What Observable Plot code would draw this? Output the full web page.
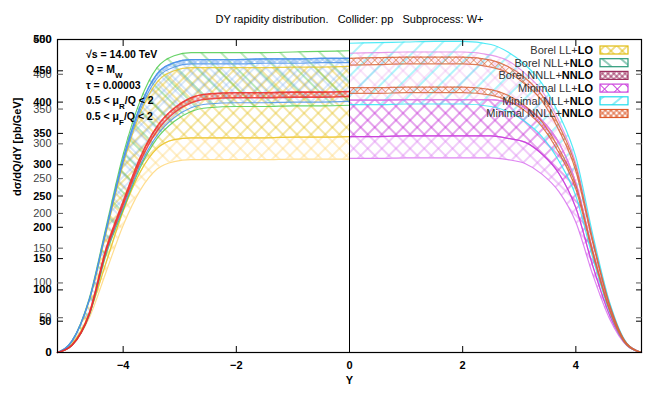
<!DOCTYPE html>
<html><head><meta charset="utf-8">
<script src="https://cdn.jsdelivr.net/npm/d3@7"></script>
<script src="https://cdn.jsdelivr.net/npm/@observablehq/plot@0.6"></script>
<style>
body{margin:0;background:#fff;}
#chart{width:656px;height:394px;}
svg{font-family:"Liberation Sans",Arial,Helvetica,sans-serif;}
</style></head><body><div id="chart"></div>
<script>
// ---- data ----
const xTicks = [-4, -2, 0, 2, 4];
const yTicksMain = [0, 50, 100, 150, 200, 250, 300, 350, 400, 450, 500];
const yTicksAlt = [0, 50, 100, 150, 200, 250, 300, 350, 400, 450];

// Borel (Y < 0)
const yLeft    = [-5.16, -4.9, -4.6, -4.3, -4.0, -3.7, -3.4, -3.1, -2.8, -2.5, -2.0, -1.5, -1.0, -0.5, 0];
const greenTop = [0, 19, 86, 201, 316, 402, 455, 474, 479, 479, 479, 479, 480, 481, 482];
const greenBot = [0, 12, 59, 157, 228, 295, 342, 369, 385, 391, 393, 393, 394, 394, 395];
const blueTop  = [0, 19, 84, 197, 309, 393, 445, 463, 468, 468, 468, 469, 469, 470, 470];
const blueTop2 = [0, 18, 83, 194, 304, 387, 438, 456, 461, 461, 461, 462, 462, 463, 463];
const blueBot  = [0, 12, 60, 160, 231, 299, 347, 375, 391, 397, 399, 399, 400, 400, 401];
const goldTop  = [0, 18, 82, 191, 300, 382, 432, 450, 455, 455, 455, 455, 456, 456, 457];
const goldBot  = [0, 14, 62, 144, 226, 288, 326, 340, 343, 343, 343, 343, 344, 344, 345];
const paleBot  = [0, 12, 55, 129, 203, 259, 293, 305, 308, 308, 308, 308, 309, 309, 309];
const redTop   = [0, 12, 62, 166, 241, 311, 361, 390, 407, 413, 415, 415, 416, 416, 417];
const redBot   = [0, 12, 61, 163, 236, 305, 354, 383, 399, 405, 407, 407, 408, 408, 409];

// Minimal (Y > 0)
const yRight     = [0, 0.5, 1.0, 1.5, 2.0, 2.5, 2.8, 3.1, 3.4, 3.7, 4.0, 4.3, 4.6, 4.9, 5.16];
const cyanTop    = [494, 495, 496, 497, 497, 492, 480, 460, 430, 381, 312, 188, 79, 15, 0];
const cyanBot    = [396, 396, 397, 397, 397, 393, 385, 369, 345, 306, 250, 151, 64, 12, 0];
const orangeTop  = [470, 471, 472, 472, 472, 467, 457, 439, 411, 363, 297, 179, 75, 14, 0];
const orangeTop2 = [459, 460, 461, 461, 461, 456, 447, 429, 402, 355, 290, 175, 74, 14, 0];
const orangeBot2 = [423, 423, 424, 424, 424, 420, 411, 394, 369, 326, 267, 161, 68, 13, 0];
const orangeBot  = [414, 414, 415, 415, 415, 411, 402, 386, 361, 319, 261, 157, 66, 12, 0];
const pinkTop    = [478, 479, 480, 480, 480, 475, 466, 446, 418, 370, 302, 182, 77, 14, 0];
const magTop     = [403, 403, 404, 404, 404, 404, 400, 392, 371, 335, 271, 162, 69, 14, 0];
const magMid     = [345, 345, 346, 346, 346, 346, 342, 336, 317, 286, 231, 138, 59, 12, 0];
const magBot     = [310, 310, 311, 311, 311, 311, 308, 302, 285, 257, 208, 124, 53, 11, 0];

const legendLabels = [["Borel LL+", "LO"], ["Borel NLL+", "NLO"], ["Borel NNLL+", "NNLO"],
                      ["Minimal LL+", "LO"], ["Minimal NLL+", "NLO"], ["Minimal NNLL+", "NNLO"]];
const insetLines = [
  [["√s = 14.00 TeV", null]],
  [["Q = M", null], ["W", "sub"]],
  [["τ = 0.00003", null]],
  [["0.5 < μ", null], ["R", "sub"], ["/Q < 2", null]],
  [["0.5 < μ", null], ["F", "sub"], ["/Q < 2", null]]
];
const title = "DY rapidity distribution.\u00a0\u00a0\u00a0Collider: pp\u00a0\u00a0\u00a0Subprocess: W+";

// ---- band styling ----
const bands = [
  {x: yLeft, lo: paleBot, hi: goldBot, pat: "pPale", stroke: "#ffd77a", sw: 1.2},
  {x: yLeft, lo: goldBot, hi: goldTop, pat: "pGold", stroke: "#e8c62a", sw: 1.2},
  {x: yLeft, lo: greenBot, hi: greenTop, pat: "pGreen", stroke: "#4fcb4f", sw: 1.2},
  {x: yLeft, lo: blueBot, hi: blueTop, pat: "pBlue", stroke: "#4b92ea", sw: 1.2},
  {x: yLeft, lo: blueTop2, hi: blueTop, pat: "pBlueD", stroke: "#4b92ea", sw: 1.1},
  {x: yLeft, lo: redBot, hi: redTop, pat: "pRed", stroke: "#ee2d2a", sw: 1.6},
  {x: yRight, lo: magBot, hi: magMid, pat: "pMagPale", stroke: "#d870ee", sw: 1.2},
  {x: yRight, lo: magMid, hi: magTop, pat: "pMag", stroke: "#c83ad8", sw: 1.2},
  {x: yRight, lo: magTop, hi: pinkTop, pat: "pPink", stroke: "#e28ae6", sw: 1.2},
  {x: yRight, lo: cyanBot, hi: cyanTop, pat: "pCyan", stroke: "#33e6f4", sw: 1.2},
  {x: yRight, lo: orangeTop2, hi: orangeTop, pat: "pOrange", stroke: "#d8643a", sw: 1.2},
  {x: yRight, lo: orangeBot, hi: orangeBot2, pat: "pOrange", stroke: "#d8643a", sw: 1.2}
];

const curve = "monotone-x";
const marks = [];
for (const b of bands) {
  const rows = b.x.map((x, i) => ({x, lo: b.lo[i], hi: b.hi[i]}));
  marks.push(Plot.areaY(rows, {x: "x", y1: "lo", y2: "hi", fill: `url(#${b.pat})`, curve}));
}
for (const b of bands) {
  const rows = b.x.map((x, i) => ({x, lo: b.lo[i], hi: b.hi[i]}));
  marks.push(Plot.lineY(rows, {x: "x", y: "lo", stroke: b.stroke, strokeWidth: b.sw, strokeOpacity: 0.85, curve, strokeLinejoin: "round"}));
  marks.push(Plot.lineY(rows, {x: "x", y: "hi", stroke: b.stroke, strokeWidth: b.sw, strokeOpacity: 0.85, curve, strokeLinejoin: "round"}));
}

const ratio = 500 / 450;
const chart = Plot.plot({
  width: 656, height: 394,
  marginLeft: 57, marginRight: 15, marginTop: 39, marginBottom: 42,
  style: {fontFamily: "Liberation Sans, Arial, sans-serif", fontSize: "11px", background: "#fff"},
  x: {domain: [-5.16, 5.16]},
  y: {domain: [0, 500]},
  marks: [
    ...marks,
    Plot.ruleX([0], {stroke: "black", strokeWidth: 1}),
    Plot.frame({stroke: "black", strokeWidth: 1.2}),
    Plot.axisX({anchor: "bottom", ticks: xTicks, tickSize: -6, tickPadding: 15, label: null, fill: "black", fontWeight: "bold"}),
    Plot.axisX({anchor: "top", ticks: xTicks, tickSize: -6, tickFormat: () => "", label: null}),
    Plot.axisY({anchor: "left", ticks: yTicksAlt.map(v => v * ratio), tickFormat: d => String(Math.round(d / ratio)), tickSize: -6, tickPadding: 12, label: null, fill: "#444", stroke: "#555"}),
    Plot.axisY({anchor: "left", ticks: yTicksMain, tickSize: -6, tickPadding: 12, label: null, fill: "black", fontWeight: "bold"}),
    Plot.axisY({anchor: "right", ticks: yTicksAlt.map(v => v * ratio), tickSize: -6, tickFormat: () => "", label: null, stroke: "#555"}),
    Plot.axisY({anchor: "right", ticks: yTicksMain, tickSize: -6, tickFormat: () => "", label: null}),
    Plot.text([title], {frameAnchor: "top", dy: -24, fontSize: 11}),
    Plot.text(["Y"], {frameAnchor: "bottom", dy: 31, fontSize: 11, fontWeight: "bold"}),
    Plot.text(["dσ/dQ/dY [pb/GeV]"], {frameAnchor: "left", dx: -40, rotate: -90, fontSize: 11, fontWeight: "bold"})
  ]
});

const svg = d3.select(chart);
const defs = svg.insert("defs", ":first-child");
function hatch(id, color, s, angle, cross, opacity = 1, sw = 1) {
  const p = defs.append("pattern").attr("id", id).attr("patternUnits", "userSpaceOnUse")
    .attr("width", s).attr("height", s).attr("patternTransform", `rotate(${angle})`);
  let d = `M0,${s / 2}H${s}`;
  if (cross) d += `M${s / 2},0V${s}`;
  p.append("path").attr("d", d).attr("stroke", color).attr("stroke-width", sw).attr("stroke-opacity", opacity).attr("fill", "none");
}
hatch("pPale", "#ffd77a", 10, 45, true, 0.8);
hatch("pGold", "#e8c630", 10, 45, true, 0.85);
hatch("pGreen", "#55c855", 14, 45, false, 0.8);
hatch("pBlue", "#5b9bec", 8, 45, true, 0.45);
hatch("pBlueD", "#5b9bec", 4, 45, true, 0.7);
hatch("pRed", "#ee3a30", 4, 45, true, 0.8);
hatch("pMagPale", "#dc80f0", 10, 45, true, 0.8);
hatch("pMag", "#c83ad8", 10, 45, true, 0.9);
hatch("pPink", "#e89ae8", 10, 45, true, 0.55);
hatch("pCyan", "#38e6f4", 14, -45, false, 0.8);
hatch("pOrange", "#d8643a", 5, 45, true, 0.6);
// legend patterns
hatch("lg0", "#e0bc10", 8, 45, true, 1);
hatch("lg1", "#2a9a78", 12, 40, false, 1);
hatch("lg2", "#9c2f5f", 4, 45, true, 1);
hatch("lg3", "#cc44dd", 9, 45, true, 1);
hatch("lg4", "#22dcec", 12, -40, false, 1);
hatch("lg5", "#dd5a2a", 4, 45, true, 1);
const legendColors = ["#e0bc10", "#2a9a78", "#9c2f5f", "#cc44dd", "#22dcec", "#dd5a2a"];

const lg = svg.append("g").attr("font-size", 11);
legendLabels.forEach((lab, i) => {
  const cy = 50 + i * 12.7;
  const t = lg.append("text").attr("x", 593).attr("y", cy).attr("dy", "0.35em").attr("text-anchor", "end");
  t.append("tspan").attr("fill", "#333").text(lab[0]);
  t.append("tspan").attr("fill", "#000").attr("font-weight", "bold").text(lab[1]);
  lg.append("rect").attr("x", 600).attr("y", cy - 4).attr("width", 28).attr("height", 8)
    .attr("fill", `url(#lg${i})`).attr("stroke", legendColors[i]).attr("stroke-width", 1.2);
});

const inset = svg.append("g").attr("font-size", 10.5).attr("font-weight", "bold").attr("text-anchor", "start");
insetLines.forEach((parts, i) => {
  const t = inset.append("text").attr("x", 86).attr("y", 54 + i * 15.5).attr("dy", "0.35em").attr("text-anchor", "start");
  parts.forEach(([txt, kind]) => {
    const sp = t.append("tspan").text(txt);
    if (kind === "sub") sp.attr("font-size", 8).attr("baseline-shift", "sub");
  });
});

document.getElementById("chart").appendChild(chart);
</script>
</body></html>
